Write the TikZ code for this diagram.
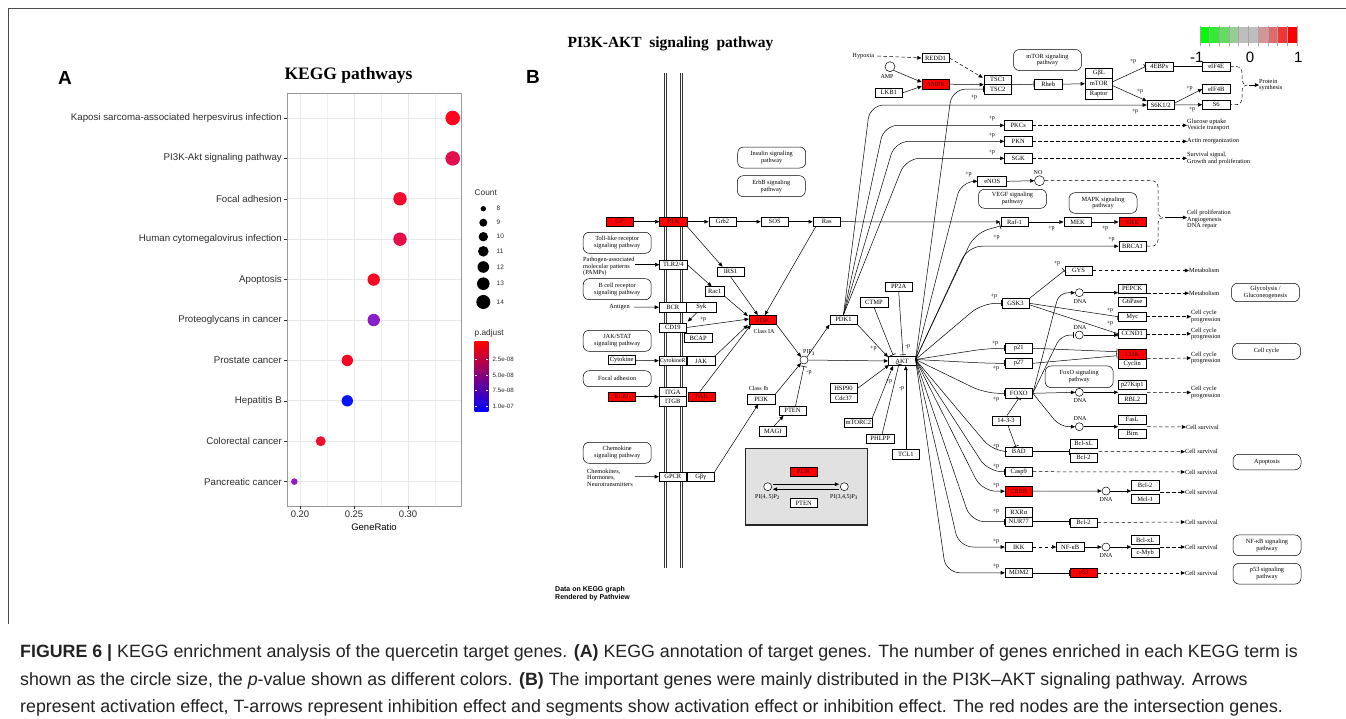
\documentclass[tikz,border=0pt]{standalone}
\usepackage{fontspec}
\setmainfont{Liberation Sans}
\newfontfamily\kser{Liberation Serif}
\usetikzlibrary{arrows.meta,calc}
\definecolor{gridc}{RGB}{232,232,232}
\definecolor{axc}{RGB}{45,45,45}
\definecolor{capc}{RGB}{35,35,35}
\definecolor{rtxt}{RGB}{70,0,0}
\definecolor{d0}{RGB}{255,5,30}
\definecolor{d1}{RGB}{225,15,75}
\definecolor{d2}{RGB}{245,10,45}
\definecolor{d3}{RGB}{228,15,72}
\definecolor{d4}{RGB}{245,10,35}
\definecolor{d5}{RGB}{140,30,200}
\definecolor{d6}{RGB}{250,5,35}
\definecolor{d7}{RGB}{10,20,245}
\definecolor{d8}{RGB}{240,15,45}
\definecolor{d9}{RGB}{150,25,200}
\definecolor{k0}{RGB}{0,255,0}
\definecolor{k1}{RGB}{50,235,50}
\definecolor{k2}{RGB}{100,220,100}
\definecolor{k3}{RGB}{150,205,150}
\definecolor{k4}{RGB}{190,190,190}
\definecolor{k5}{RGB}{190,190,190}
\definecolor{k6}{RGB}{210,150,150}
\definecolor{k7}{RGB}{225,105,105}
\definecolor{k8}{RGB}{240,55,55}
\definecolor{k9}{RGB}{255,0,0}
\definecolor{boxgrey}{RGB}{225,225,225}
\begin{document}
\begin{tikzpicture}[x=1pt,y=-1pt,
  gene/.style={draw, line width=0.5pt, fill=white, inner sep=0pt, minimum width=27.5pt, minimum height=9.4pt, font=\kser\fontsize{6.5}{6.5}\selectfont},
  rgene/.style={gene, fill=red, text=rtxt},
  pw/.style={draw, line width=0.5pt, rounded corners=6pt, inner sep=0pt, minimum width=68pt, minimum height=21pt, align=center, font=\kser\fontsize{6.3}{6.9}\selectfont},
  kt/.style={font=\kser\fontsize{6.3}{6.6}\selectfont, inner sep=0pt, align=left},
  pp/.style={font=\kser\fontsize{6}{6}\selectfont, inner sep=0pt},
  cpd/.style={draw, circle, line width=0.5pt, fill=white, minimum size=8pt, inner sep=0pt},
  ln/.style={line width=0.5pt},
  act/.style={ln, -{Triangle[length=4.2pt,width=3.6pt]}},
  inh/.style={ln, -{Bar[width=6pt,line width=0.6pt]}},
  dact/.style={act, dash pattern=on 3.5pt off 2.5pt},
  dln/.style={ln, dash pattern=on 3.5pt off 2.5pt},
  memb/.style={draw=black!80, line width=0.6pt},
  ylab/.style={anchor=east, inner sep=0pt, text=axc, font=\fontsize{9.7}{9.7}\selectfont},
  leg/.style={anchor=west, inner sep=0pt, text=axc, font=\fontsize{6.5}{6.5}\selectfont},
  captxt/.style={anchor=base west, inner sep=0pt, text=capc, font=\fontsize{17.8}{17.8}\selectfont},
  fan/.style={rounded corners=14pt}
]
\useasboundingbox (0,0) rectangle (1346,718);
\fill[white] (0,0) rectangle (1346,718);
% outer frame
\draw[black!70, line width=0.8pt] (8,624) -- (8,8) -- (1346,8);

% ================= PANEL A =================
\node[font=\bfseries\fontsize{19}{19}\selectfont, inner sep=0pt] (lblA) at (65,78) {A};
\node[font=\kser\bfseries\fontsize{17.5}{17.5}\selectfont, inner sep=0pt] (titA) at (348.5,75) {KEGG pathways};
\foreach \x in {327,381,435} \draw[gridc!55!white, line width=0.5pt] (\x,93) -- (\x,506);
\foreach \x in {300,354,408} \draw[gridc, line width=0.9pt] (\x,93) -- (\x,506);
\foreach \i in {0,...,9} \draw[gridc, line width=0.9pt] (287,{118+40.4*\i}) -- (461,{118+40.4*\i});
\draw[black!40, line width=0.9pt] (287,93) rectangle (461,506);
\foreach \i/\lab/\gx/\r/\c in {
 0/{Kaposi sarcoma-associated herpesvirus infection}/452.7/7.3/d0,
 1/{PI3K-Akt signaling pathway}/452.7/7.3/d1,
 2/{Focal adhesion}/400/6.7/d2,
 3/{Human cytomegalovirus infection}/400/6.7/d3,
 4/{Apoptosis}/373.7/6.2/d4,
 5/{Proteoglycans in cancer}/373.7/6.2/d5,
 6/{Prostate cancer}/347.3/5.7/d6,
 7/{Hepatitis B}/347.3/5.7/d7,
 8/{Colorectal cancer}/320.7/5/d8,
 9/{Pancreatic cancer}/294.3/3.3/d9}
{
 \node[ylab] (yl\i) at (282,{118+40.4*\i}) {\lab};
 \draw[axc, line width=0.6pt] (284,{118+40.4*\i}) -- (287,{118+40.4*\i});
 \fill[\c] (\gx,{118+40.4*\i}) circle[radius=\r pt];
}
\foreach \x/\t in {300/0.20,354/0.25,408/0.30}{
 \draw[axc, line width=0.6pt] (\x,506) -- (\x,509);
 \node[inner sep=0pt, text=axc, font=\fontsize{9.5}{9.5}\selectfont] (xl\x) at (\x,514.5) {\t};
}
\node[inner sep=0pt, text=black, font=\fontsize{9.5}{9.5}\selectfont] (xtit) at (374,527) {GeneRatio};
% legends
\node[leg, font=\fontsize{8.3}{8.3}\selectfont] (cnt) at (474.5,193) {Count};
\foreach \v/\yy/\r in {8/208.7/2.7, 9/222.7/4.0, 10/236.7/4.7, 11/251.3/5.3, 12/267/5.8, 13/283.7/6.3, 14/302/7}{
 \fill[black] (483.3,\yy) circle[radius=\r pt];
 \node[leg] (cl\v) at (496.5,\yy) {\v};
}
\node[leg, font=\fontsize{8.3}{8.3}\selectfont] (padj) at (474.5,333.5) {p.adjust};
\shade[top color=red, middle color=red!55!blue, bottom color=blue] (474.7,341.7) rectangle (488.3,411.7);
\foreach \yy/\t in {359/2.5e-08, 375/5.0e-08, 390.7/7.5e-08, 406/1.0e-07}{
 \draw[white, line width=0.5pt] (474.7,\yy) -- (477.4,\yy) (485.6,\yy) -- (488.3,\yy);
 \node[leg, font=\fontsize{6.2}{6.2}\selectfont] (pl\yy) at (492.5,\yy) {\t};
}

% ================= PANEL B =================
\node[font=\bfseries\fontsize{19}{19}\selectfont, inner sep=0pt] (lblB) at (533,77) {B};
\node[font=\kser\bfseries\fontsize{15.5}{15.5}\selectfont, inner sep=0pt] (titB) at (670.5,44) {PI3K-AKT\ \ signaling\ \ pathway};
% color key
\foreach \i/\c in {0/k0,1/k1,2/k2,3/k3,4/k4,5/k5,6/k6,7/k7,8/k8,9/k9}
 \fill[\c] ({1200+9.67*\i},27.3) rectangle ({1209.67+9.67*\i},42.7);
\foreach \i in {0,...,10} \draw[black!35, line width=0.4pt] ({1200+9.67*\i},26) -- ({1200+9.67*\i},45.5);
\node[inner sep=0pt, font=\fontsize{15}{15}\selectfont] (km1) at (1196.7,57.3) {-1};
\node[inner sep=0pt, font=\fontsize{15}{15}\selectfont] (k0l) at (1250,57.3) {0};
\node[inner sep=0pt, font=\fontsize{15}{15}\selectfont] (k1l) at (1298.3,57.3) {1};

% membrane (two double lines)
\foreach \x in {664.2,666,680.7,682.5} \draw[memb] (\x,73) -- (\x,568);

% pathway boxes
\node[pw] (pwIns) at (771.7,157.5) {Insulin signaling\\pathway};
\node[pw] (pwErb) at (771.3,186.2) {ErbB signaling\\pathway};
\node[pw] (pwToll) at (617.2,242.8) {Toll-like receptor\\signaling pathway};
\node[pw] (pwBcr) at (617.2,289.2) {B cell receptor\\signaling pathway};
\node[pw] (pwJak) at (617.2,340.8) {JAK/STAT\\signaling pathway};
\node[pw, minimum height=16pt] (pwFoc) at (617.2,378.7) {Focal adhesion};
\node[pw] (pwChe) at (617.2,452.8) {Chemokine\\signaling pathway};
\node[pw] (pwMtor) at (1047.5,60) {mTOR signaling\\pathway};
\node[pw, minimum height=19pt] (pwVegf) at (1012.5,198.8) {VEGF signaling\\pathway};
\node[pw, minimum height=20.6pt] (pwMapk) at (1103,203) {MAPK signaling\\pathway};
\node[pw, minimum height=18.4pt] (pwGly) at (1265.5,292.5) {Glycolysis /\\Gluconeogenesis};
\node[pw, minimum height=21.7pt] (pwFoxo) at (1079.2,376.8) {FoxO signaling\\pathway};
\node[pw, minimum height=16pt] (pwCc) at (1266.5,351.3) {Cell cycle};
\node[pw, minimum height=15.5pt] (pwApo) at (1267,462) {Apoptosis};
\node[pw, minimum height=20.7pt] (pwNfkb) at (1267,545.3) {NF-κB signaling\\pathway};
\node[pw, minimum height=20.7pt] (pwP53) at (1267,573.7) {p53 signaling\\pathway};

% grey box
\draw[line width=1.1pt, draw=black!85, fill=boxgrey] (745.5,448.5) rectangle (867.5,525);
\node[rgene] (gPI3K) at (803.8,471.7) {PI3K};
\node[gene] (gPTEN) at (803.7,503) {PTEN};
\node[cpd] (gc1) at (767.7,486.7) {};
\node[cpd] (gc2) at (844.3,486.7) {};
\node[pp] (gl1) at (767.5,497) {PI(4, 5)P\textsubscript{2}};
\node[pp] (gl2) at (844,497) {PI(3,4,5)P\textsubscript{3}};
\draw[act] ($(gc1.east)+(1,-2.5)$) -- ($(gc2.west)+(-1,-2.5)$);
\draw[act] ($(gc2.west)+(-1,2.5)$) -- ($(gc1.east)+(1,2.5)$);

% left genes
\node[rgene] (GF) at (619.5,221.7) {GF};
\node[rgene] (RTK) at (673.3,221.7) {RTK};
\node[gene] (Grb2) at (722.5,221.7) {Grb2};
\node[gene] (SOS) at (774.7,221.7) {SOS};
\node[gene] (Ras) at (826.7,221.7) {Ras};
\node[gene] (TLR) at (673.3,264.7) {TLR2/4};
\node[gene] (IRS1) at (730.5,271.7) {IRS1};
\node[gene, minimum width=19.3pt] (Rac1) at (714.7,291.3) {Rac1};
\node[gene] (BCR) at (672.8,307.2) {BCR};
\node[gene, minimum width=29.3pt] (Syk) at (701.3,307.2) {Syk};
\node[gene] (CD19) at (672.8,327.5) {CD19};
\node[gene] (BCAP) at (698.2,338) {BCAP};
\node[rgene] (PI3K) at (762.8,320) {PI3K};
\node[pp] (clA) at (764,331.5) {Class IA};
\node[gene] (Cytokine) at (621.7,360) {Cytokine};
\node[gene, font=\kser\fontsize{5.9}{5.9}\selectfont] (CytR) at (672.8,361) {CytokineR};
\node[gene] (JAK) at (701,361) {JAK};
\node[rgene] (ECM) at (621.7,396.7) {ECM};
\node[gene] (ITGA) at (672.8,392) {ITGA};
\node[gene] (ITGB) at (672.8,401.4) {ITGB};
\node[rgene] (FAK) at (701.7,396.7) {FAK};
\node[pp] (clB) at (758.5,388) {Class Ib};
\node[gene] (PI3Kb) at (761.2,399.3) {PI3K};
\node[gene] (PTEN) at (792.5,410.8) {PTEN};
\node[gene] (MAGI) at (772.8,431.3) {MAGI};
\node[gene] (GPCR) at (672.8,476.7) {GPCR};
\node[gene] (Gbg) at (700.7,476.7) {Gβγ};
\node[kt] (PAMP) at (583,266.5) [anchor=west] {Pathogen-associated\\molecular patterns\\(PAMPs)};
\node[kt] (Antig) at (619.5,307) {Antigen};
\node[kt] (Chem) at (587,477.5) [anchor=west] {Chemokines,\\Hormones,\\Neurotransmitters};

% middle genes
\node[cpd] (PIP3) at (804,360) {};
\node[pp] (PIP3l) at (809,352.5) {PIP\textsubscript{3}};
\node[gene] (PDK1) at (843.5,319.7) {PDK1};
\node[gene] (CTMP) at (874,302.3) {CTMP};
\node[gene] (PP2A) at (898.7,286.7) {PP2A};
\node[gene] (AKT) at (902,361) {AKT};
\node[gene] (HSP90) at (843.5,388.4) {HSP90};
\node[gene] (Cdc37) at (843.5,397.8) {Cdc37};
\node[gene] (mTORC2) at (858.3,422.8) {mTORC2};
\node[gene] (PHLPP) at (880.2,438.7) {PHLPP};
\node[gene] (TCL1) at (905.8,454.3) {TCL1};

% top genes
\node[kt] (Hyp) at (863.3,56) {Hypoxia};
\node[gene] (REDD1) at (935.5,58) {REDD1};
\node[cpd, minimum size=10pt] (AMP) at (890,66.7) {};
\node[pp] (AMPl) at (887,76.7) {AMP};
\node[rgene] (AMPK) at (935.8,84.2) {AMPK};
\node[gene] (LKB1) at (888.8,92.8) {LKB1};
\node[gene] (TSC1) at (997.8,79.7) {TSC1};
\node[gene] (TSC2) at (997.8,89.1) {TSC2};
\node[gene] (Rheb) at (1048.2,84.2) {Rheb};
\node[gene, minimum height=10.4pt] (GbL) at (1098.8,73.3) {GβL};
\node[gene, minimum height=10.4pt] (mTOR) at (1098.8,83.7) {mTOR};
\node[gene, minimum height=10.4pt] (Raptor) at (1098.8,94.1) {Raptor};
\node[gene] (EBP) at (1159.2,66.7) {4EBPs};
\node[gene] (eIF4E) at (1216.2,66.7) {eIF4E};
\node[gene] (S6K) at (1160.8,105) {S6K1/2};
\node[gene] (eIF4B) at (1216.2,89) {eIF4B};
\node[gene] (S6) at (1216.2,104.7) {S6};
\node[kt] (Prot) at (1259,85) [anchor=west] {Protein\\synthesis};
\node[gene] (PKCs) at (1018.2,125.3) {PKCs};
\node[gene] (PKN) at (1018.2,141.3) {PKN};
\node[gene] (SGK) at (1018.2,158.3) {SGK};
\node[kt] (ph1) at (1187,125) [anchor=west] {Glucose uptake\\Vesicle transport};
\node[kt] (ph2) at (1187,141.3) [anchor=west] {Actin reorganization};
\node[kt] (ph3) at (1187,158.5) [anchor=west] {Survival signal,\\Growth and proliferation};
\node[gene, minimum width=29pt] (eNOS) at (992.2,181.3) {eNOS};
\node[cpd, minimum size=10pt] (NO) at (1039.5,180.7) {};
\node[pp] (NOl) at (1038,172.8) {NO};
\node[gene] (Raf1) at (1014.5,222) {Raf-1};
\node[gene] (MEK) at (1077.5,222) {MEK};
\node[rgene] (ERK) at (1132.5,222) {ERK};
\node[gene] (BRCA1) at (1132.5,246.2) {BRCA1};
\node[kt] (ph4) at (1187,219.5) [anchor=west] {Cell proliferation\\Angiogenesis\\DNA repair};

% right genes
\node[gene] (GYS) at (1078.5,270.5) {GYS};
\node[kt] (met1) at (1189,270.5) [anchor=west] {Metabolism};
\node[gene, minimum height=8.6pt] (PEPCK) at (1132.2,288.5) {PEPCK};
\node[gene, minimum height=9pt] (G6P) at (1132.2,301.3) {G6Pase};
\node[kt] (met2) at (1189,293.2) [anchor=west] {Metabolism};
\node[gene] (GSK3) at (1015.5,303.3) {GSK3};
\node[gene] (Myc) at (1132.2,316.7) {Myc};
\node[gene, minimum height=9pt] (CCND1) at (1132.2,333.8) {CCND1};
\node[kt] (cc1) at (1191,316.5) [anchor=west] {Cell cycle\\progression};
\node[kt] (cc2) at (1191,334) [anchor=west] {Cell cycle\\progression};
\node[gene] (p21) at (1018.8,348.3) {p21};
\node[gene] (p27) at (1018.8,363.3) {p27};
\node[rgene] (CDK) at (1132.2,354.2) {CDK};
\node[gene] (Cyclin) at (1132.2,363.6) {Cyclin};
\node[kt] (cc3) at (1191,358) [anchor=west] {Cell cycle\\progression};
\node[gene] (p27K) at (1132.2,385) {p27Kip1};
\node[gene] (RBL2) at (1132.2,399) {RBL2};
\node[kt] (cc4) at (1191,392.5) [anchor=west] {Cell cycle\\progression};
\node[gene] (FOXO) at (1018.8,393.3) {FOXO};
\node[gene] (F1433) at (1006,420.5) {14-3-3};
\node[gene] (FasL) at (1132.2,419.7) {FasL};
\node[gene] (Bim) at (1132.2,433.7) {Bim};
\node[gene] (BAD) at (1018.8,451.5) {BAD};
\node[gene] (BxL1) at (1083.5,443.5) {Bcl-xL};
\node[gene] (Bc2a) at (1083.5,457.5) {Bcl-2};
\node[gene] (Casp9) at (1018.8,471.7) {Casp9};
\node[rgene] (CREB) at (1018.8,491.2) {CREB};
\node[gene] (Bc2b) at (1145.2,485.3) {Bcl-2};
\node[gene] (Mcl1) at (1145.2,498.8) {Mcl-1};
\node[gene] (RXRa) at (1018.8,512.3) {RXRα};
\node[gene] (NUR77) at (1018.8,521.7) {NUR77};
\node[gene] (Bc2c) at (1083.5,522.5) {Bcl-2};
\node[gene] (IKK) at (1018.8,547) {IKK};
\node[gene] (NFkB) at (1070.2,547) {NF-κB};
\node[gene] (BxL2) at (1145.2,540) {Bcl-xL};
\node[gene] (cMyb) at (1145.2,552.8) {c-Myb};
\node[gene] (MDM2) at (1018.8,572.8) {MDM2};
\node[rgene] (p53) at (1083.5,573) {p53};
\node[kt] (cs1) at (1186,427) [anchor=west] {Cell survival};
\node[kt] (cs2) at (1185,451.7) [anchor=west] {Cell survival};
\node[kt] (cs3) at (1185,472) [anchor=west] {Cell survival};
\node[kt] (cs4) at (1185,492) [anchor=west] {Cell survival};
\node[kt] (cs5) at (1185,522) [anchor=west] {Cell survival};
\node[kt] (cs6) at (1185,547) [anchor=west] {Cell survival};
\node[kt] (cs7) at (1185,573) [anchor=west] {Cell survival};
% DNA
\node[cpd] (dn1) at (1079.3,292.7) {};
\node[cpd] (dn2) at (1079.3,335) {};
\node[cpd] (dn3) at (1079.3,392.3) {};
\node[cpd] (dn4) at (1079.3,426.7) {};
\node[cpd] (dn5) at (1106,491) {};
\node[cpd] (dn6) at (1106,547) {};
\node[pp] (dl1) at (1080,301.5) {DNA};
\node[pp] (dl2) at (1080,327.5) {DNA};
\node[pp] (dl3) at (1080,401) {DNA};
\node[pp] (dl4) at (1080,419) {DNA};
\node[pp] (dl5) at (1106,500) {DNA};
\node[pp] (dl6) at (1106,555.5) {DNA};
\node[font=\bfseries\fontsize{7}{8}\selectfont, inner sep=0pt, align=left, anchor=west] (pview) at (555,593.5) {Data on KEGG graph\\Rendered by Pathview};

% ---------- connectors: left ----------
\draw[act] (GF) -- (RTK);
\draw[act] (RTK) -- (Grb2);
\draw[act] (Grb2) -- (SOS);
\draw[act] (SOS) -- (Ras);
\draw[act] (Ras) -- (Raf1);
\draw[act] (RTK.south east) -- ($(IRS1.north)+(-8,0)$);
\draw[act] (IRS1.south) -- ($(PI3K.north)+(-5,0)$);
\draw[act] ($(Ras.south west)+(3,0)$) -- ($(PI3K.north)+(2,0)$);
\draw[act] (TLR.east) -- ($(Rac1.north)+(-3,0)$);
\draw[act] (Rac1.south east) -- ($(PI3K.north west)+(-1,1)$);
\draw[act] (PAMP.east |- TLR) -- (TLR.west);
\draw[act] ($(Antig.east)+(4,0)$) -- (BCR.west);
\draw[act] ($(Syk.south)+(-4,0)$) -- ($(CD19.north east)+(1,-1)$);
\node[pp] (pSyk) at (703,319) {+p};
\draw[act] (CD19.east) -- ($(PI3K.west)+(0,-1)$);
\draw[act] (JAK.north east) -- ($(PI3K.south west)+(-1,0)$);
\draw[act] ($(FAK.north)+(-2,0)$) -- ($(PI3K.south west)+(2,0)$);
\draw[act] (Cytokine) -- (CytR);
\draw[act] (ECM.east) -- (ECM.east -| ITGA.west);
\draw[act] ($(Chem.east)+(2,-1)$) -- (GPCR.west);
\draw[act] (PI3K.south east) -- (PIP3.north west);
\draw[act] (PI3Kb.north east) -- (PIP3.south west);
\draw[act] (Gbg.north east) -- ($(PI3Kb.south)+(-3,0)$);
\draw[act] ($(MAGI.north)+(1,0)$) -- ($(PTEN.south west)+(5,0)$);
\draw[inh] ($(PTEN.north)+(3,0)$) -- ($(PIP3.south)+(0,2)$);
\node[pp] (mp1) at (809,373) {-p};
\draw[act] (PIP3.north east) -- (PDK1.south west);
\draw[act] (PIP3.east) -- (AKT.west);
\draw[act] (PDK1.south east) -- ($(AKT.north west)+(0,1)$);
\node[pp] (pPDK) at (873.3,348) {+p};
\draw[inh] (CTMP.south) -- ($(AKT.north west)+(5,-1)$);
\draw[inh] (PP2A.south) -- ($(AKT.north)+(1,-1)$);
\node[pp] (mPP) at (907.5,347) {-p};
\draw[act] (HSP90.east) -- ($(AKT.south west)+(1,-1)$);
\draw[act] (mTORC2.north east) -- ($(AKT.south west)+(5,0)$);
\node[pp] (pmt) at (889,381.5) {+p};
\draw[inh] ($(PHLPP.north)+(2,0)$) -- ($(AKT.south)+(-3,-2)$);
\node[pp] (mPH) at (901.5,388.5) {-p};
\draw[act] (TCL1.north) -- (TCL1.north |- AKT.south);

% ---------- connectors: PDK1 fan ----------
\draw[act, fan] (PDK1.north) -- (870,105) -- (S6K.west);
\draw[act, fan] (PDK1.north) -- (884,125.3) -- (PKCs.west);
\draw[act, fan] (PDK1.north) -- (895,141.3) -- (PKN.west);
\draw[act, fan] (PDK1.north) -- (906,158.3) -- (SGK.west);
\node[pp] (pS6K) at (1135,111) {+p};
\node[pp] (pPKC) at (991.7,118.3) {+p};
\node[pp] (pPKN) at (991.7,135) {+p};
\node[pp] (pSGK) at (991.7,152) {+p};

% ---------- top ----------
\draw[dact] ($(Hyp.east)+(3,0)$) -- (REDD1.west);
\draw[dact] (REDD1.east) -- ($(TSC1.north west)+(-1,3)$);
\draw[act] (AMP.south east) -- ($(AMPK.west)+(0,-2)$);
\draw[act] (LKB1.east) -- ($(AMPK.west)+(0,2)$);
\draw[act] (AMPK.east) -- (TSC1.south west);
\draw[inh] (TSC1.south east) -- (Rheb.west);
\draw[act] (Rheb.east) -- (mTOR.west);
\draw[inh] ($(mTOR.east)+(0,-2)$) -- (EBP.west);
\node[pp] (pEBP) at (1133,61) {+p};
\draw[act] ($(mTOR.east)+(0,2)$) -- ($(S6K.north west)+(0,1)$);
\node[pp] (pS6Ka) at (1140,91) {+p};
\draw[inh] (EBP.east) -- (eIF4E.west);
\draw[act] ($(S6K.east)+(0,-2)$) -- (eIF4B.west);
\node[pp] (p4B) at (1189.5,88) {+p};
\draw[act] (S6K.east) -- (S6.west);
\node[pp] (pS6) at (1192,109.5) {+p};
\draw[dln] (eIF4E.east) -- (1237,66.7) to[out=0,in=90] (1242,73) -- (1242,80) to[out=-90,in=180] (1247,85) to[out=180,in=90] (1242,90) -- (1242,98) to[out=-90,in=0] (1237,104.7) -- (S6.east);
\draw[act] (1249,85) -- (Prot.west);
\draw[dact] (PKCs.east) -- (PKCs.east -| ph1.west);
\draw[dact] (PKN.east) -- (ph2.west);
\draw[dact] (SGK.east) -- (SGK.east -| ph3.west);
\draw[act] (eNOS.east) -- (NO.west);
\draw[act] (Raf1) -- (MEK);
\draw[act] (MEK) -- (ERK);
\node[pp] (pMEK) at (1051.5,228) {+p};
\node[pp] (pERK) at (1105,228) {+p};
\draw[dln] (NO.east) -- (1152,180.7) to[out=0,in=90] (1158,187) -- (1158,212) to[out=-90,in=180] (1163,217.5) to[out=180,in=90] (1158,223) -- (1158,240) to[out=-90,in=0] (1152,246.2) -- (BRCA1.east);
\draw[act] (1165,217.5) -- (ph4.west |- 0,217.5);

% ---------- AKT fan ----------
\coordinate (ak) at (915.5,359.5);
\draw[inh, fan] (ak) -- (952,89.1) -- (TSC2.west);
\node[pp] (pTSC) at (974,97.5) {+p};
\draw[act, fan] (ak) -- (961,181.3) -- (eNOS.west);
\node[pp] (peN) at (968.5,174.5) {+p};
\draw[inh, fan] (ak) -- (975,233) -- ($(Raf1.south west)+(0,-1)$);
\node[pp] (pRaf) at (996.5,237) {+p};
\draw[act, fan] (ak) -- (968,246.2) -- (BRCA1.west);
\node[pp] (pBR) at (1111.5,239.5) {+p};
\draw[inh, fan] (ak) -- (982,303.3) -- (GSK3.west);
\node[pp] (pGSK) at (994,296) {+p};
\draw[inh, fan] (ak) -- (988,348.3) -- (p21.west);
\node[pp] (p21p) at (995,343) {+p};
\draw[inh, fan] (ak) -- (988,363.3) -- (p27.west);
\node[pp] (p27p) at (996,368) {+p};
\draw[inh, fan] (ak) -- (985,393.3) -- (FOXO.west);
\node[pp] (pFO) at (996,399.5) {+p};
\draw[inh, fan] (ak) -- (993,451.5) -- (BAD.west);
\node[pp] (pBAD) at (996,446) {+p};
\draw[inh, fan] (ak) -- (988,471.7) -- (Casp9.west);
\node[pp] (pC9) at (996,466.3) {+p};
\draw[act, fan] (ak) -- (982,491.2) -- (CREB.west);
\node[pp] (pCR) at (996,485.5) {+p};
\draw[inh, fan] (ak) -- (971,521.7) -- (NUR77.west);
\node[pp] (pNU) at (996,511.5) {+p};
\draw[act, fan] (ak) -- (959,547) -- (IKK.west);
\node[pp] (pIKK) at (996,541) {+p};
\draw[act, fan] (ak) -- (946,572.8) -- (MDM2.west);
\node[pp] (pMD) at (996,566.5) {+p};

% ---------- right side ----------
\draw[inh] (GSK3.north east) -- (GYS.west);
\node[pp] (pGYS) at (1057,263) {+p};
\draw[dact] (GYS.east) -- (met1.west);
\draw[inh] (GSK3.east) -- (Myc.west);
\node[pp] (pMyc) at (1110,310) {+p};
\draw[inh] ($(GSK3.east)+(0,1.5)$) -- (CCND1.west);
\node[pp] (pCC) at (1110,323) {+p};
\draw[dact] (Myc.east) -- (Myc.east -| cc1.west);
\draw[dact] (CCND1.east) -- (CCND1.east -| cc2.west);
\draw[act, rounded corners=9pt] (FOXO.east) -- (1059,292.7) -- (dn1.west);
\draw[inh, rounded corners=9pt, shorten >=1.5pt] (FOXO.east) -- (1061,335) -- (dn2.west);
\draw[act] (FOXO.east) -- (dn3.west);
\draw[act, rounded corners=9pt] (FOXO.east) -- (1060,426.7) -- (dn4.west);
\draw[act] (dn1.east) -- (dn1.east -| PEPCK.west);
\draw[act] (dn2.east) -- (dn2.east -| CCND1.west);
\draw[act] (dn3.east) -- (dn3.east -| p27K.west);
\draw[act] (dn4.east) -- (dn4.east -| FasL.west);
\draw[dact] ($(PEPCK.east)+(1,4.7)$) -- (met2.west);
\draw[inh] (p21.east) -- ($(CDK.west)+(-1,-2.5)$);
\draw[inh] (p27.east) -- ($(CDK.west)+(-1,1.5)$);
\draw[dact] ($(CDK.east)+(1,4.5)$) -- (cc3.west);
\draw[dact] ($(p27K.east)+(1,7.3)$) -- (cc4.west);
\draw[dact] ($(FasL.east)+(1,7)$) -- (cs1.west);
\draw[inh] ($(F1433.north)+(1,0)$) -- (FOXO.south);
\draw[inh] ($(F1433.south)+(2,0)$) -- ($(BAD.north)+(-3,0)$);
\draw[inh] (BAD.east) -- (BAD.east -| BxL1.west);
\draw[dact] ($(BxL1.east)+(1,8)$) -- (cs2.west);
\draw[dact] (Casp9.east) -- (cs3.west);
\draw[act] (CREB.east) -- (dn5.west);
\draw[act] (dn5.east) -- (dn5.east -| Bc2b.west);
\draw[dact] ($(Bc2b.east)+(1,6.7)$) -- (cs4.west);
\draw[inh] (NUR77.east) -- (NUR77.east -| Bc2c.west);
\draw[dact] (Bc2c.east) -- (cs5.west);
\draw[dact] (IKK.east) -- (NFkB.west);
\draw[act] (NFkB.east) -- (dn6.west);
\draw[act] (dn6.east) -- (dn6.east -| BxL2.west);
\draw[dact] ($(BxL2.east)+(1,7)$) -- (cs6.west);
\draw[inh] (MDM2.east) -- (MDM2.east -| p53.west);
\draw[dact] (p53.east) -- (cs7.west);

% ================= CAPTION =================
\node[captxt] (cap1) at (20,657.5) {\textbf{FIGURE 6 |} KEGG enrichment analysis of the quercetin target genes. \textbf{(A)} KEGG annotation of target genes. The number of genes enriched in each KEGG term is};
\node[captxt] (cap2) at (20,685) {shown as the circle size, the \textit{p}-value shown as different colors. \textbf{(B)} The important genes were mainly distributed in the PI3K–AKT signaling pathway. Arrows};
\node[captxt] (cap3) at (20,712.5) {represent activation effect, T-arrows represent inhibition effect and segments show activation effect or inhibition effect. The red nodes are the intersection genes.};
\end{tikzpicture}
\end{document}
